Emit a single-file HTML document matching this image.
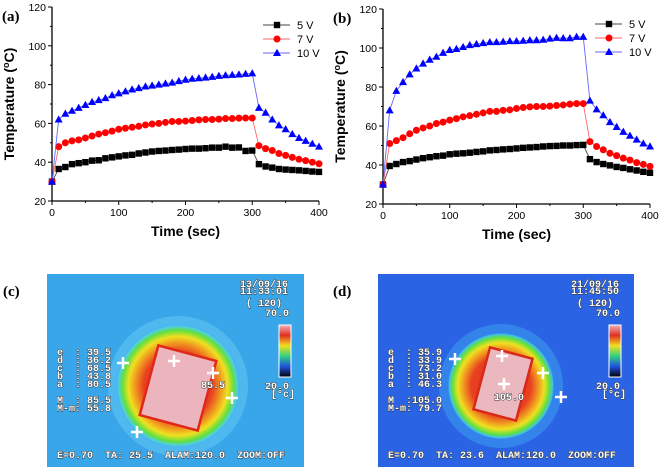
<!DOCTYPE html>
<html><head><meta charset="utf-8"><style>
body{margin:0;background:#fff;width:660px;height:468px;overflow:hidden;font-family:"Liberation Sans",sans-serif}
svg{position:absolute;left:0;top:0}
.th{font-family:"Liberation Mono",monospace;font-size:10px;font-weight:bold;fill:#fff;stroke:#333;stroke-width:0.9px;paint-order:stroke;white-space:pre}
.ch{stroke:#fff;stroke-width:2.5;fill:none}
</style></head><body>
<svg id="s" width="660" height="468">
<defs>
<radialGradient id="gc" cx="0.5" cy="0.5" r="0.5">
<stop offset="0" stop-color="#e03020"/><stop offset="0.55" stop-color="#e84020"/><stop offset="0.68" stop-color="#f09020"/><stop offset="0.8" stop-color="#f0e020"/><stop offset="0.9" stop-color="#60e040"/><stop offset="0.96" stop-color="#50d0e0"/><stop offset="1" stop-color="#3aa6ea" stop-opacity="0"/>
</radialGradient>
<radialGradient id="gd" cx="0.5" cy="0.5" r="0.5">
<stop offset="0" stop-color="#e03020"/><stop offset="0.55" stop-color="#e84020"/><stop offset="0.68" stop-color="#f09020"/><stop offset="0.8" stop-color="#f0e020"/><stop offset="0.9" stop-color="#60e040"/><stop offset="0.96" stop-color="#40c0e8"/><stop offset="1" stop-color="#2a64e4" stop-opacity="0"/>
</radialGradient>
<linearGradient id="bar" x1="0" y1="0" x2="0" y2="1">
<stop offset="0" stop-color="#f0b0b8"/><stop offset="0.2" stop-color="#e03020"/><stop offset="0.4" stop-color="#f0e020"/><stop offset="0.6" stop-color="#30d080"/><stop offset="0.8" stop-color="#2050e0"/><stop offset="1" stop-color="#000"/>
</linearGradient>
</defs>
<g id="charts"></g>

<!-- (c) -->
<text x="3" y="296" font-family="Liberation Serif" font-weight="bold" font-size="15">(c)</text>
<g>
<rect x="47" y="274" width="257" height="193" fill="#3aa6ea"/>
<circle cx="178" cy="386" r="70" fill="#5cc4f2" opacity="0.6"/>
<circle cx="178" cy="386" r="62" fill="url(#gc)"/>
<rect x="-30" y="-36" width="60" height="72" fill="#ecb4bc" stroke="#e02818" stroke-width="2.5" transform="translate(178,388) rotate(15)"/>
<path class="ch" d="M174,355v12M168,361h12M123,357v12M117,363h12M213,367v12M207,373h12M232,392v12M226,398h12M137,426v12M131,432h12"/>
<text class="th" x="240" y="287">13/09/16</text><text class="th" x="240" y="294">11:33:01</text>
<text class="th" x="246" y="306">( 120)</text><text class="th" x="265" y="316">70.0</text>
<rect x="279" y="325" width="12" height="52" fill="url(#bar)" stroke="#fff"/>
<text class="th" x="265" y="389">20.0</text><text class="th" x="271" y="397">[°c]</text>
<text class="th" x="57" y="355">e  : 39.5</text><text class="th" x="57" y="363">d  : 36.2</text><text class="th" x="57" y="371">c  : 68.5</text><text class="th" x="57" y="379">b  : 43.8</text><text class="th" x="57" y="387">a  : 80.5</text>
<text class="th" x="57" y="403">M  : 85.5</text><text class="th" x="57" y="411">M-m: 55.8</text>
<text class="th" x="57" y="458">E=0.70  TA: 25.5  ALAM:120.0  ZOOM:OFF</text>
<text class="th" x="201" y="388">85.5</text>
</g>

<!-- (d) -->
<text x="333" y="296" font-family="Liberation Serif" font-weight="bold" font-size="15">(d)</text>
<g>
<rect x="378" y="274" width="256" height="193" fill="#2a64e4"/>
<circle cx="501" cy="386" r="62" fill="#3c9cf0" opacity="0.55"/>
<circle cx="501" cy="386" r="54" fill="url(#gd)"/>
<rect x="-22" y="-32" width="44" height="64" fill="#ecb8c0" stroke="#d82818" stroke-width="2.5" transform="translate(503,384) rotate(15)"/>
<path class="ch" d="M502,350v12M496,356h12M455,353v12M449,359h12M543,367v12M537,373h12M561,391v12M555,397h12M504,378v12M498,384h12"/>
<text class="th" x="571" y="287">21/09/16</text><text class="th" x="571" y="294">11:45:50</text>
<text class="th" x="577" y="306">( 120)</text><text class="th" x="596" y="316">70.0</text>
<rect x="609" y="325" width="12" height="52" fill="url(#bar)" stroke="#fff"/>
<text class="th" x="596" y="389">20.0</text><text class="th" x="602" y="397">[°c]</text>
<text class="th" x="388" y="355">e  : 35.9</text><text class="th" x="388" y="363">d  : 33.9</text><text class="th" x="388" y="371">c  : 73.2</text><text class="th" x="388" y="379">b  : 31.0</text><text class="th" x="388" y="387">a  : 46.3</text>
<text class="th" x="388" y="403">M  :105.0</text><text class="th" x="388" y="411">M-m: 79.7</text>
<text class="th" x="388" y="458">E=0.70  TA: 23.6  ALAM:120.0  ZOOM:OFF</text>
<text class="th" x="494" y="400">105.0</text>
</g>
</svg>
<script>
const times=[0,10,20,30,40,50,60,70,80,90,100,110,120,130,140,150,160,170,180,190,200,210,220,230,240,250,260,270,280,290,300,310,320,330,340,350,360,370,380,390,400];
const a5=[30,36.5,37.5,39,39.5,40,40.8,41,42,42.5,43,43.5,43.8,44.5,45,45.5,45.8,46,46.3,46.5,46.8,47,47,47.2,47.5,47.5,48,47.5,47.6,45.8,46,39,37.8,37.2,36.5,36.2,36,35.8,35.5,35.2,35];
const a7=[30,48,50,51,51.5,52.5,53.5,54.5,55.2,56,57,57.5,58,58.5,59.2,59.7,60,60.5,61,61,61.2,61.5,61.8,62,62,62.2,62.5,62.5,62.7,62.8,62.8,48.5,47,46,44.5,43.5,42.5,41.5,40.8,40,39.2];
const a10=[30,62,65,66.5,68,69.5,71,72,73,74.5,75.5,76.5,77.5,78.2,79,79.5,80,80.5,81,81.8,82.5,83,83.3,83.6,84,84.5,84.8,85,85.2,85.5,85.8,68,65.5,62,59,57,54.5,52.5,51,49.5,48];
const b5=[30,39.5,40.5,41.5,42,42.8,43.5,44,44.5,44.8,45.5,45.8,46,46.3,46.7,47,47.5,47.7,48,48.2,48.5,48.8,49,49.2,49.5,49.7,49.8,50,50,50.2,50.3,43,41.5,40.5,39.8,39,38.5,37.8,37.2,36.5,36];
const b7=[30,51,52.5,54,56,57.8,59,60,61.3,62,63,63.8,64.7,65.3,66,66.7,67.5,67.5,68,68.3,69,69.5,69.8,70,70,70.2,70.5,70.8,71.2,71.5,71.5,52,49.5,47.8,46,44.8,43.5,42.5,41.2,40.3,39.3];
const b10=[30,68,78,82.5,86.5,89.5,92,94,95.5,97.5,99,99.5,100.5,101.5,102,102.5,103,103,103.2,103.5,103.5,103.7,104,104,104.2,104.8,105.2,105,105,105.7,105.7,73,68.5,65.5,62,59.5,57,55,53,51,49.5];
const xTicks=[0,100,200,300,400];
const yTicks=[20,40,60,80,100,120];
const seriesLabels=["5 V","7 V","10 V"];

const NS="http://www.w3.org/2000/svg";
const root=document.getElementById('charts');
function mk(tag,attrs,parent){const e=document.createElementNS(NS,tag);for(const k in attrs)e.setAttribute(k,attrs[k]);(parent||root).appendChild(e);return e;}
const colors=["#000","#f00","#00f"];
const lineCol=["#444","#f66","#66f"];
function marker(g,kind,x,y,c){
  if(kind===0)return mk('rect',{x:x-3.2,y:y-3.2,width:6.4,height:6.4,fill:c},g);
  if(kind===1)return mk('circle',{cx:x,cy:y,r:3.5,fill:c},g);
  return mk('path',{d:`M${x},${y-4.2}L${x+4},${y+3}L${x-4},${y+3}Z`,fill:c},g);
}
function chart(id,label,x0,x1,y0,y1,data,legX,legY){
  const g=mk('g',{});
  
  
  const sx=v=>x0+(v-0)/400*(x1-x0);
  const sy=v=>y0+(v-20)/100*(y1-y0);
  const pl=mk('text',{x:x0-50,y:y1+14,'font-family':'Liberation Serif','font-weight':'bold','font-size':15},g);pl.textContent=label;
  
  
  const ax=mk('path',{d:`M${x0},${y1}V${y0}H${x1}`,stroke:'#000',fill:'none','stroke-width':1.3},g);
  
  
  for(let v=0;v<=400;v+=50){mk('line',{x1:sx(v),x2:sx(v),y1:y0,y2:y0+(v%100?2:4),stroke:'#000'},g);}
  for(let v=20;v<=120;v+=10){mk('line',{x1:x0,x2:x0-(v%20?2:4),y1:sy(v),y2:sy(v),stroke:'#000'},g);}
  xTicks.forEach(v=>{const t=mk('text',{x:sx(v),y:y0+15,'text-anchor':'middle','font-size':10.5},g);t.textContent=v;
    
    });
  yTicks.forEach(v=>{const t=mk('text',{x:x0-6,y:sy(v)+4,'text-anchor':'end','font-size':10.5},g);t.textContent=v;
    
    });
  const xt=mk('text',{x:(x0+x1)/2,y:y0+35,'text-anchor':'middle','font-size':14,'font-weight':'bold'},g);xt.textContent='Time (sec)';
  
  
  const yt=mk('text',{x:0,y:0,'text-anchor':'middle','font-size':14,'font-weight':'bold',transform:`translate(${x0-38},${(y0+y1)/2}) rotate(-90)`},g);
  yt.innerHTML='Temperature (<tspan dy="-5" font-size="9">o</tspan><tspan dy="5">C)</tspan>';
  
  
  data.forEach((s,i)=>{
    const sg=mk('g',{},g);
    
    
    mk('polyline',{points:s.map((v,j)=>sx(times[j])+','+sy(v)).join(' '),fill:'none',stroke:lineCol[i],'stroke-width':0.9},sg);
    s.forEach((v,j)=>{const m=marker(sg,i,sx(times[j]),sy(v),colors[i]);
      
      });
    const lg=mk('g',{},g);
    
    
    const ly=legY+i*14;
    mk('line',{x1:legX,x2:legX+27,y1:ly,y2:ly,stroke:lineCol[i]},lg);
    marker(lg,i,legX+14,ly,colors[i]);
    const t=mk('text',{x:legX+34,y:ly+4,'font-size':11},lg);t.textContent=seriesLabels[i];
  });
}
chart('a','(a)',52,319,201,7,[a5,a7,a10],263,25);
chart('b','(b)',383,650,204,9,[b5,b7,b10],595,24);
</script>
</body></html>
